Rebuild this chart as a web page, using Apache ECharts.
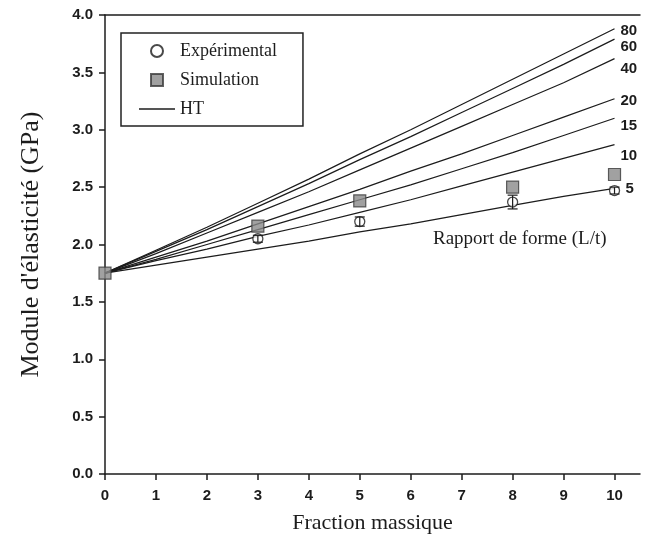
<!DOCTYPE html>
<html>
<head>
<meta charset="utf-8">
<script src="https://cdn.jsdelivr.net/npm/echarts@6/dist/echarts.min.js"></script>
<style>
  html, body { margin: 0; padding: 0; background: #fff; }
  #chart { width: 656px; height: 548px; }
</style>
</head>
<body>
<div id="chart"></div>
<script>
// Mass fraction (x) and Halpin-Tsai predictions for each aspect ratio (L/t)
const fractions = [0, 1, 2, 3, 4, 5, 6, 7, 8, 9, 10];
const ratios = ['80', '60', '40', '20', '15', '10', '5'];
const ht80 = [1.75, 1.95, 2.15, 2.36, 2.57, 2.79, 3.00, 3.22, 3.44, 3.66, 3.88];
const ht60 = [1.75, 1.94, 2.13, 2.33, 2.53, 2.74, 2.94, 3.15, 3.36, 3.57, 3.79];
const ht40 = [1.75, 1.92, 2.10, 2.28, 2.46, 2.65, 2.84, 3.03, 3.22, 3.41, 3.62];
const ht20 = [1.75, 1.89, 2.03, 2.18, 2.33, 2.48, 2.64, 2.79, 2.95, 3.11, 3.27];
const ht15 = [1.75, 1.87, 2.00, 2.13, 2.26, 2.39, 2.52, 2.66, 2.80, 2.95, 3.10];
const ht10 = [1.75, 1.86, 1.96, 2.07, 2.17, 2.28, 2.39, 2.51, 2.63, 2.75, 2.87];
const ht5  = [1.75, 1.82, 1.89, 1.96, 2.03, 2.11, 2.18, 2.26, 2.34, 2.42, 2.49];

// Experimental measurements with their spread
const expX = [3, 5, 8, 10];
const expY = [2.05, 2.20, 2.37, 2.47];
const expErr = [0.03, 0.04, 0.06, 0.03];

// Simulation results
const simX = [0, 3, 5, 8, 10];
const simY = [1.75, 2.16, 2.38, 2.50, 2.61];

const yTicks = [0, 0.5, 1, 1.5, 2, 2.5, 3, 3.5, 4];

const htCurves = [ht80, ht60, ht40, ht20, ht15, ht10, ht5];
// nudges of the ratio labels next to each curve end
const labelShift = [[0, 2], [0, 8], [0, 10], [0, 2], [0, 8], [0, 11], [5, 1]];

const chart = echarts.init(document.getElementById('chart'), null, { renderer: 'canvas' });

const serif = '"Liberation Serif", "Times New Roman", serif';
const sans = '"Liberation Sans", Arial, sans-serif';
const ink = '#1c1c1c';

const lineSeries = htCurves.map((vals, i) => ({
  name: i === 0 ? 'HT' : 'HT ' + ratios[i],
  type: 'line',
  data: fractions.map((x, k) => [x, vals[k]]),
  symbol: 'none',
  smooth: false,
  lineStyle: { color: ink, width: 1.25 },
  itemStyle: { color: ink },
  z: 2,
  silent: true,
  endLabel: {
    show: true,
    formatter: ratios[i],
    color: ink,
    fontFamily: sans,
    fontWeight: 'bold',
    fontSize: 15,
    distance: 6,
    offset: labelShift[i]
  }
}));

const errorSeries = {
  name: 'errors',
  type: 'custom',
  z: 6,
  silent: true,
  data: expX.map((x, k) => [x, expY[k] - expErr[k], expY[k] + expErr[k]]),
  renderItem: function (params, api) {
    const lo = api.coord([api.value(0), api.value(1)]);
    const hi = api.coord([api.value(0), api.value(2)]);
    const w = 5;
    const st = { stroke: ink, lineWidth: 1.2 };
    return {
      type: 'group',
      children: [
        { type: 'line', shape: { x1: lo[0], y1: lo[1], x2: hi[0], y2: hi[1] }, style: st },
        { type: 'line', shape: { x1: lo[0] - w, y1: lo[1], x2: lo[0] + w, y2: lo[1] }, style: st },
        { type: 'line', shape: { x1: hi[0] - w, y1: hi[1], x2: hi[0] + w, y2: hi[1] }, style: st }
      ]
    };
  }
};

const option = {
  backgroundColor: '#ffffff',
  animation: false,
  grid: { left: 105, right: 16, top: 15, bottom: 74, containLabel: false },
  legend: {
    data: [
      { name: 'Expérimental', icon: 'circle' },
      { name: 'Simulation', icon: 'path://M0,0L10,0L10,10L0,10Z' },
      { name: 'HT', icon: 'path://M0,0L36,0L36,1.6L0,1.6Z' }
    ],
    orient: 'vertical',
    left: 121,
    top: 33,
    itemWidth: 36,
    itemHeight: 12,
    itemGap: 11,
    padding: [9, 26, 8, 18],
    borderColor: '#222',
    borderWidth: 1.5,
    selectedMode: false,
    textStyle: { fontFamily: serif, fontSize: 18, color: ink, lineHeight: 18 }
  },
  xAxis: [{
    type: 'value',
    min: 0,
    max: 10.5,
    interval: 1,
    name: 'Fraction massique',
    nameLocation: 'middle',
    nameGap: 38,
    nameTextStyle: { fontFamily: serif, fontSize: 22, color: ink },
    axisLine: { show: true, onZero: false, lineStyle: { color: ink, width: 1.5 } },
    axisTick: { show: true, inside: false, length: 6, lineStyle: { color: ink, width: 1.5 } },
    axisLabel: {
      margin: 14,
      fontFamily: sans, fontWeight: 'bold', fontSize: 15, color: ink,
      showMaxLabel: false,
      formatter: v => (Number.isInteger(v) ? String(v) : '')
    },
    splitLine: { show: false }
  }, {
    type: 'value',
    position: 'top',
    min: 0,
    max: 10.5,
    axisLine: { show: true, onZero: false, lineStyle: { color: ink, width: 1.5 } },
    axisTick: { show: false },
    axisLabel: { show: false },
    splitLine: { show: false }
  }],
  yAxis: {
    type: 'value',
    min: yTicks[0],
    max: yTicks[yTicks.length - 1],
    interval: 0.5,
    name: "Module d'élasticité (GPa)",
    nameLocation: 'middle',
    nameGap: 61,
    nameTextStyle: { fontFamily: serif, fontSize: 26, color: ink },
    axisLine: { show: true, onZero: false, lineStyle: { color: ink, width: 1.5 } },
    axisTick: { show: true, inside: false, length: 6, lineStyle: { color: ink, width: 1.5 } },
    axisLabel: {
      margin: 12,
      fontFamily: sans, fontWeight: 'bold', fontSize: 15, color: ink,
      formatter: v => v.toFixed(1)
    },
    splitLine: { show: false }
  },
  graphic: [{
    type: 'text',
    left: 433,
    top: 230,
    style: {
      text: 'Rapport de forme (L/t)',
      font: '19px ' + serif,
      fill: ink
    }
  }],
  series: [
    ...lineSeries,
    {
      name: 'Simulation',
      type: 'scatter',
      data: simX.map((x, k) => [x, simY[k]]),
      symbol: 'rect',
      symbolSize: 12,
      itemStyle: { color: '#8a8a8a', borderColor: '#3a3a3a', borderWidth: 1.2 },
      z: 5
    },
    {
      name: 'Expérimental',
      type: 'scatter',
      data: expX.map((x, k) => [x, expY[k]]),
      symbol: 'circle',
      symbolSize: 10,
      itemStyle: { color: '#ffffff', borderColor: ink, borderWidth: 1.3 },
      z: 5
    },
    errorSeries
  ]
};

chart.setOption(option);
</script>
</body>
</html>
